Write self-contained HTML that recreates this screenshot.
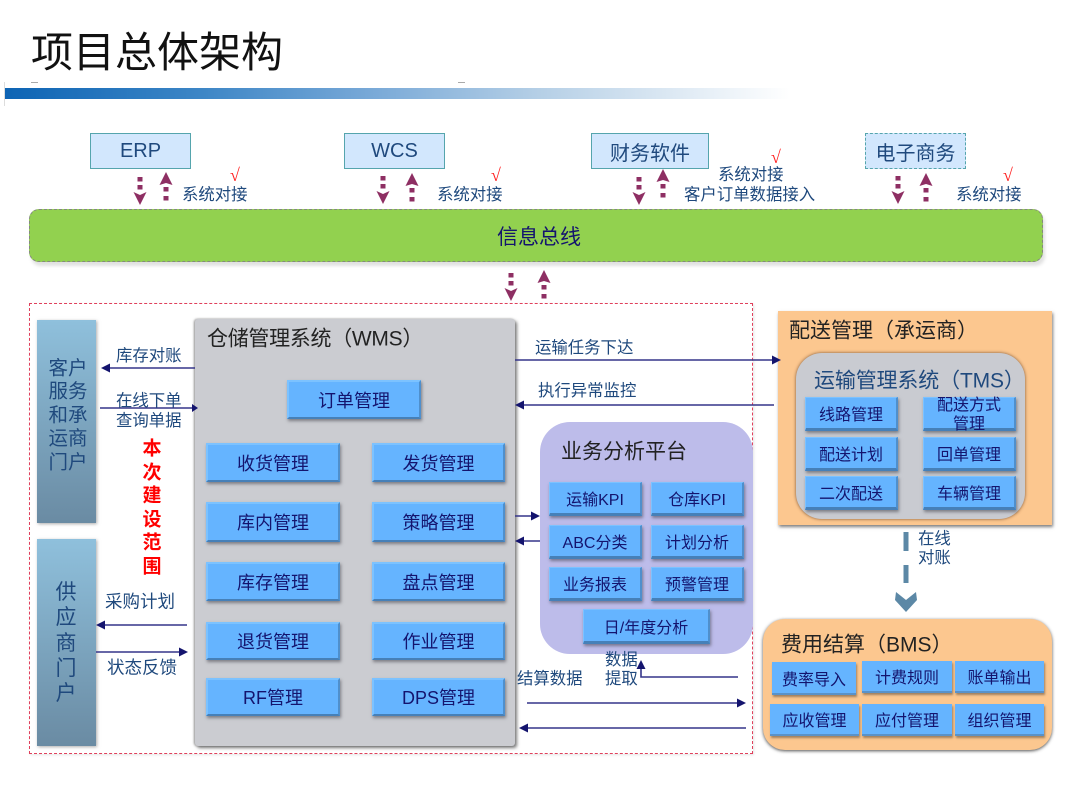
<!DOCTYPE html>
<html lang="zh"><head><meta charset="utf-8"><title>项目总体架构</title>
<style>
*{box-sizing:border-box}
html,body{margin:0;padding:0;background:#fff}
#p{position:relative;width:1080px;height:810px;overflow:hidden;background:#fff;font-family:"Liberation Sans","Noto Sans CJK SC",sans-serif;color:#1f497d;filter:blur(.35px)}
#p div{position:absolute}
svg{position:absolute;left:0;top:0;z-index:5}
.t{white-space:nowrap;line-height:1;font-size:16.4px;z-index:6;transform:translateY(-50%)}
.top{background:#d2e7fd;border:1.5px solid #55a5ad;display:flex;align-items:center;justify-content:center;font-size:20px;color:#1f497d;white-space:nowrap}
.b{background:#65b4ff;display:flex;align-items:center;justify-content:center;text-align:center;color:#14146e;white-space:nowrap;font-size:18px;border-top:2px solid #7cc2ff;border-left:2px solid #7cc2ff;border-right:2px solid #4f8fcc;border-bottom:2px solid #4680b8;box-shadow:1px 2px 3px rgba(60,60,70,.55);z-index:3}
.s{font-size:16px;border-width:1px 2px 3px 1px}
.f{border-width:0 0 2px 0;border-bottom-color:#5a92c8;box-shadow:1px 2px 2px rgba(70,60,50,.5);font-size:16px}
.h{font-size:21px;white-space:nowrap;line-height:1;color:#222;z-index:4;transform:translateY(-50%)}
.v{text-align:center;white-space:nowrap;z-index:4;transform:translate(-50%,-50%);line-height:1}
</style></head><body><div id="p">

<div class="t" style="left:31px;top:53px;font-size:42px;color:#111">项目总体架构</div>
<div style="left:4px;top:82px;width:1px;height:24px;background:#ddd"></div>
<div style="left:5px;top:88px;width:785px;height:11px;background:linear-gradient(90deg,#0d64b4 0%,#3d86c6 25%,#74a6d6 45%,#b5cfe6 68%,#fff 100%)"></div>
<div style="left:31px;top:82px;width:7px;height:1px;background:#aaa"></div>
<div style="left:458px;top:82px;width:7px;height:1px;background:#aaa"></div>

<div class="top" style="left:90px;top:133px;width:101px;height:36px">ERP</div>
<div class="top" style="left:344px;top:133px;width:101px;height:36px">WCS</div>
<div class="top" style="left:591px;top:133px;width:118px;height:36px">财务软件</div>
<div class="top" style="left:865px;top:133px;width:101px;height:36px;border:1.5px dashed #55a5ad">电子商务</div>

<div style="left:29px;top:209px;width:1014px;height:53px;background:#92d14f;border:1.5px dashed #85897f;border-radius:10px;box-shadow:2px 4px 3px rgba(120,120,120,.22);display:flex;align-items:center;justify-content:center;font-size:21px;color:#14146e;padding-left:6px">信息总线</div>

<div class="t" style="left:182px;top:195px">系统对接</div>
<div class="t" style="left:437px;top:195px">系统对接</div>
<div class="t" style="left:718px;top:175px">系统对接</div>
<div class="t" style="left:684px;top:195px">客户订单数据接入</div>
<div class="t" style="left:956px;top:195px">系统对接</div>

<div style="left:29px;top:303px;width:724px;height:451px;border:1px dashed #e0405c;box-shadow:1px 1px 2px rgba(170,170,170,.3)"></div>

<div style="left:37px;top:320px;width:59px;height:203px;background:linear-gradient(180deg,#8fc0dc,#6a8ba3);box-shadow:1px 1px 3px rgba(90,90,90,.5)"></div>
<div class="v" style="left:68px;top:416px;font-size:19.5px;line-height:23.4px">客户<br>服务<br>和承<br>运商<br>门户</div>
<div style="left:37px;top:539px;width:59px;height:207px;background:linear-gradient(180deg,#8fc0dc,#6a8ba3);box-shadow:1px 1px 3px rgba(90,90,90,.5)"></div>
<div class="v" style="left:66px;top:643px;font-size:21px;line-height:25.3px">供<br>应<br>商<br>门<br>户</div>

<div class="v" style="left:152px;top:508px;font-size:19px;line-height:23.5px;font-weight:700;color:#f00">本<br>次<br>建<br>设<br>范<br>围</div>

<div style="left:195px;top:319px;width:320px;height:427px;background:#cbccd1;border-radius:3px;box-shadow:-1px 0 2px rgba(80,80,80,.6),2px 2px 3px rgba(70,70,70,.7)"></div>
<div class="h" style="left:207px;top:339px;letter-spacing:-.3px">仓储管理系统（WMS）</div>

<div class="b" style="left:287px;top:380px;width:134px;height:39px">订单管理</div>
<div class="b" style="left:206px;top:443px;width:134px;height:39px">收货管理</div>
<div class="b" style="left:372px;top:443px;width:133px;height:39px">发货管理</div>
<div class="b" style="left:206px;top:502px;width:134px;height:40px">库内管理</div>
<div class="b" style="left:372px;top:502px;width:133px;height:40px">策略管理</div>
<div class="b" style="left:206px;top:562px;width:134px;height:39px">库存管理</div>
<div class="b" style="left:372px;top:562px;width:133px;height:39px">盘点管理</div>
<div class="b" style="left:206px;top:622px;width:134px;height:38px">退货管理</div>
<div class="b" style="left:372px;top:622px;width:133px;height:38px">作业管理</div>
<div class="b" style="left:206px;top:678px;width:134px;height:38px">RF管理</div>
<div class="b" style="left:372px;top:678px;width:133px;height:38px">DPS管理</div>

<div style="left:540px;top:422px;width:213px;height:232px;background:#bdbcea;border-radius:30px"></div>
<div class="h" style="left:561px;top:452px">业务分析平台</div>
<div class="b s" style="left:549px;top:482px;width:93px;height:34px">运输KPI</div>
<div class="b s" style="left:651px;top:482px;width:93px;height:34px">仓库KPI</div>
<div class="b s" style="left:549px;top:525px;width:93px;height:34px">ABC分类</div>
<div class="b s" style="left:651px;top:525px;width:93px;height:34px">计划分析</div>
<div class="b s" style="left:549px;top:567px;width:93px;height:34px">业务报表</div>
<div class="b s" style="left:651px;top:567px;width:93px;height:34px">预警管理</div>
<div class="b s" style="left:583px;top:609px;width:127px;height:35px">日/年度分析</div>

<div style="left:778px;top:311px;width:274px;height:214px;background:#fcc78f;box-shadow:1px 2px 3px rgba(70,70,70,.7)"></div>
<div class="h" style="left:789px;top:331px">配送管理（承运商）</div>
<div style="left:796px;top:353px;width:229px;height:166px;background:#c9cbd1;border-radius:26px;box-shadow:0 0 3px rgba(110,70,40,.9)"></div>
<div class="h" style="left:814px;top:381px;color:#1f497d;letter-spacing:-.15px">运输管理系统（TMS）</div>
<div class="b s" style="left:805px;top:397px;width:93px;height:34px">线路管理</div>
<div class="b s" style="left:923px;top:397px;width:93px;height:34px;line-height:19px;padding-top:3px">配送方式<br>管理</div>
<div class="b s" style="left:805px;top:437px;width:93px;height:34px">配送计划</div>
<div class="b s" style="left:923px;top:437px;width:93px;height:34px">回单管理</div>
<div class="b s" style="left:805px;top:476px;width:93px;height:34px">二次配送</div>
<div class="b s" style="left:923px;top:476px;width:93px;height:34px">车辆管理</div>

<div style="left:763px;top:619px;width:289px;height:131px;background:#fcc78f;border-radius:22px;box-shadow:0 1px 3px rgba(60,60,60,.9)"></div>
<div class="h" style="left:781px;top:645px">费用结算（BMS）</div>
<div class="b f" style="left:772px;top:662px;width:84px;height:33px">费率导入</div>
<div class="b f" style="left:862px;top:661px;width:90px;height:32px">计费规则</div>
<div class="b f" style="left:955px;top:661px;width:89px;height:32px">账单输出</div>
<div class="b f" style="left:770px;top:704px;width:89px;height:32px">应收管理</div>
<div class="b f" style="left:862px;top:704px;width:90px;height:32px">应付管理</div>
<div class="b f" style="left:955px;top:704px;width:89px;height:32px">组织管理</div>

<div class="t" style="left:116px;top:356px">库存对账</div>
<div class="t" style="left:116px;top:401px">在线下单</div>
<div class="t" style="left:116px;top:421px">查询单据</div>
<div class="t" style="left:105px;top:602px;font-size:17.5px">采购计划</div>
<div class="t" style="left:107px;top:668px;font-size:17.5px">状态反馈</div>
<div class="t" style="left:535px;top:348px">运输任务下达</div>
<div class="t" style="left:538px;top:391px">执行异常监控</div>
<div class="t" style="left:517px;top:679px">结算数据</div>
<div class="t" style="left:605px;top:660px">数据</div>
<div class="t" style="left:605px;top:679px">提取</div>
<div class="t" style="left:918px;top:539px">在线</div>
<div class="t" style="left:918px;top:558px">对账</div>

<div class="t" style="left:230px;top:175px;font-size:18px;color:#f22;font-family:'Liberation Serif',serif">√</div>
<div class="t" style="left:491px;top:175px;font-size:18px;color:#f22;font-family:'Liberation Serif',serif">√</div>
<div class="t" style="left:771px;top:157px;font-size:18px;color:#f22;font-family:'Liberation Serif',serif">√</div>
<div class="t" style="left:1003px;top:175px;font-size:18px;color:#f22;font-family:'Liberation Serif',serif">√</div>

<svg width="1080" height="810" viewBox="0 0 1080 810">
<defs>
<g id="dn" fill="#8e2f63"><rect x="-2.5" y="0" width="5" height="4.5"/><rect x="-2.5" y="8" width="5" height="4.5"/><path d="M-6.5 15 L0 28 L6.5 15 L0 18 Z"/></g>
<g id="up" fill="#8e2f63"><path d="M-6.5 13 L0 0 L6.5 13 L0 11 Z"/><rect x="-2.5" y="15" width="5" height="4.5"/><rect x="-2.5" y="24" width="5" height="4.5"/></g>
</defs>
<use href="#dn" x="140" y="177"/><use href="#up" x="166" y="172"/>
<use href="#dn" x="383" y="176"/><use href="#up" x="412" y="173"/>
<use href="#dn" x="639" y="177"/><use href="#up" x="663" y="169"/>
<use href="#dn" x="898" y="176"/><use href="#up" x="926" y="173"/>
<use href="#dn" x="511" y="273"/><use href="#up" x="544" y="270"/>

<g stroke="#35358a" stroke-width="1.6" fill="none">
<path d="M195 368H108"/><path d="M100 408H192"/>
<path d="M187 625H104"/><path d="M96 652H180"/>
<path d="M515 360H773"/><path d="M774 405H523"/>
<path d="M515 516H532"/><path d="M540 541H523"/>
<path d="M738 677H641V668"/>
<path d="M527 703H738"/><path d="M746 728H527"/>
</g>
<g fill="#14146e">
<path d="M101 368l9-4.500v9z"/><path d="M198 408l-6-4v8z"/>
<path d="M96 625l9-4.500v9z"/><path d="M188 652l-9-4.500v9z"/>
<path d="M781 360l-9-4.500v9z"/><path d="M515 405l9-4.500v9z"/>
<path d="M540 516l-9-4.500v9z"/><path d="M515 541l9-4.500v9z"/>
<path d="M641 660l-4.500 9h9z"/>
<path d="M746 703l-9-4.500v9z"/><path d="M519 728l9-4.500v9z"/>
</g>
<g fill="#5c88a6">
<rect x="903.500" y="532" width="5" height="19"/>
<rect x="903.500" y="565" width="5" height="18"/>
<path d="M896 592L906 600L916 592L917 600L906 612L895 600Z"/>
</g>
</svg>
</div></body></html>
